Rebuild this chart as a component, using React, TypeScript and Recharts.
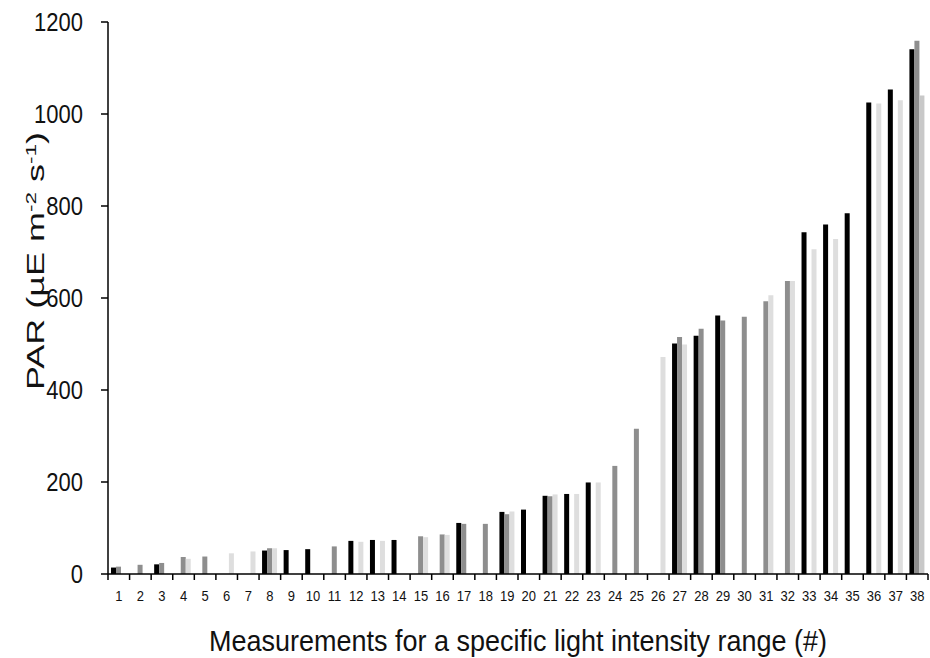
import React from 'react';
import { BarChart, Bar, XAxis, YAxis, Cell } from 'recharts';

// Measurement ranges 1–38
const categories = [
  '1', '2', '3', '4', '5', '6', '7', '8', '9', '10',
  '11', '12', '13', '14', '15', '16', '17', '18', '19', '20',
  '21', '22', '23', '24', '25', '26', '27', '28', '29', '30',
  '31', '32', '33', '34', '35', '36', '37', '38',
];

// PAR readings (µE m-2 s-1) of the three sensors; null = no reading
const sensorA = [
  14, null, 21, null, null, null, null, 51, 52, 54,
  null, 72, 74, 74, null, null, 111, null, 135, 140,
  170, 174, 199, null, null, null, 501, 518, 562, null,
  null, null, 743, 760, 784, 1025, 1053, 1141,
];
const sensorB = [
  16, 20, 24, 37, 38, null, null, 56, null, null,
  60, null, null, null, 82, 86, 109, 109, 130, null,
  169, null, null, 235, 316, null, 515, 533, 551, 559,
  593, 637, null, null, null, null, null, 1159,
];
const sensorC = [
  null, null, null, 33, null, 45, 49, 56, null, null,
  null, 70, 72, null, 80, 85, null, null, 136, null,
  173, 174, 199, null, null, 472, 499, null, null, null,
  606, 637, 706, 728, null, 1023, 1030, 1040,
];

const yTicks = [0, 200, 400, 600, 800, 1000, 1200];

const data = categories.map((c, i) => ({
  name: c,
  a: sensorA[i],
  b: sensorB[i],
  c: sensorC[i],
}));

const FONT = '"Liberation Sans", Arial, sans-serif';
const W = 930;
const H = 658;
const MARGIN = { top: 22, right: 2, bottom: 54, left: 48 };
const Y_AXIS_W = 60;
const X_AXIS_H = 30;
const PLOT_W = W - MARGIN.left - MARGIN.right - Y_AXIS_W;
const BAND = PLOT_W / categories.length;

const XTick = (props: any) => {
  const { x, y, payload, index } = props;
  const half = BAND / 2;
  return (
    <g>
      <line x1={x - half} x2={x - half} y1={y} y2={y + 6} stroke="#000" strokeWidth={1.5} />
      {index === categories.length - 1 && (
        <line x1={x + half} x2={x + half} y1={y} y2={y + 6} stroke="#000" strokeWidth={1.5} />
      )}
      <text
        transform={`translate(${x}, ${y + 22}) scale(1, 1.15)`}
        dy="0.355em"
        textAnchor="middle"
        fontSize={13}
        fill="#111"
        fontFamily={FONT}
      >
        {payload.value}
      </text>
    </g>
  );
};

const YTick = (props: any) => {
  const { x, y, payload } = props;
  return (
    <text
      transform={`translate(${x}, ${y}) scale(1, 1.15)`}
      dy="0.355em"
      textAnchor="end"
      fontSize={22}
      fill="#111"
      fontFamily={FONT}
    >
      {payload.value}
    </text>
  );
};

const YTitle = () => (
  <text
    transform="translate(44, 261) scale(1, 1.5) rotate(-90)"
    textAnchor="middle"
    fontSize={24}
    fill="#111"
    fontFamily={FONT}
  >
    PAR (µE m
    <tspan dy={-8} fontSize={15}>-2</tspan>
    <tspan dy={8}> s</tspan>
    <tspan dy={-8} fontSize={15}>-1</tspan>
    <tspan dy={8}>)</tspan>
  </text>
);

const XTitle = (props: any) => {
  const { viewBox } = props;
  return (
    <text
      transform={`translate(${viewBox.x + viewBox.width / 2}, 640) scale(1, 1.1)`}
      dy="0.355em"
      textAnchor="middle"
      fontSize={27}
      fill="#111"
      fontFamily={FONT}
    >
      Measurements for a specific light intensity range (#)
    </text>
  );
};

export default function App() {
  return (
    <div style={{ position: 'absolute', left: 0, top: 0, background: '#fff' }}>
      <BarChart
        width={W}
        height={H}
        data={data}
        margin={MARGIN}
        barSize={5}
        barGap={0}
      >
        <XAxis
          dataKey="name"
          height={X_AXIS_H}
          interval={0}
          tickLine={false}
          tickSize={0}
          tickMargin={0}
          tick={<XTick />}
          axisLine={{ stroke: '#000', strokeWidth: 1.5 }}
          label={<XTitle />}
        />
        <YAxis
          width={Y_AXIS_W}
          domain={[0, 1200]}
          ticks={yTicks}
          interval={0}
          tickSize={7}
          tickMargin={18}
          tickLine={{ stroke: '#000', strokeWidth: 1.5 }}
          axisLine={{ stroke: '#000', strokeWidth: 1.5 }}
          tick={<YTick />}
          label={<YTitle />}
        />
        <Bar dataKey="a" fill="#000000" isAnimationActive={false} />
        <Bar dataKey="b" fill="#8e8e8e" isAnimationActive={false} />
        <Bar dataKey="c" fill="#dedede" isAnimationActive={false}>
          {data.map((d, i) => (
            <Cell key={d.name} fill={i === categories.length - 1 ? '#c8c8c8' : '#dedede'} />
          ))}
        </Bar>
      </BarChart>
    </div>
  );
}
